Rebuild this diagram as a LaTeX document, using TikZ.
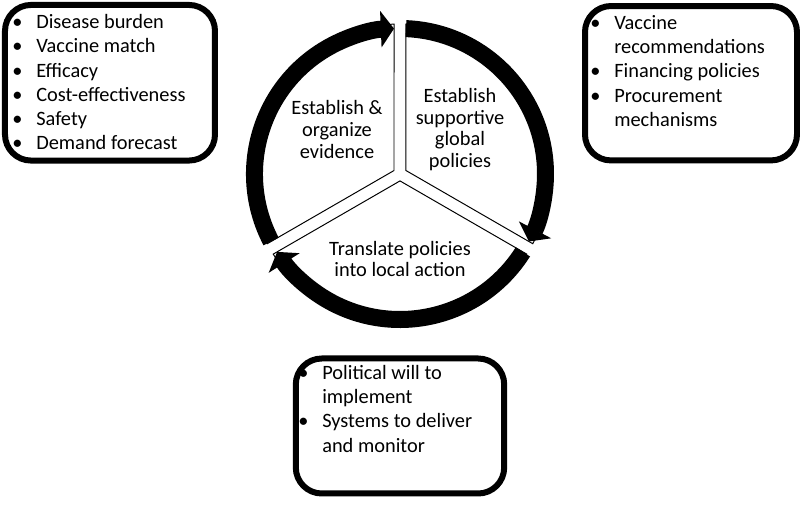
\documentclass[tikz,border=0pt]{standalone}
\usepackage{fontspec}
\setmainfont{Carlito}
\usetikzlibrary{arrows.meta}

\begin{document}
\begin{tikzpicture}[
    slice/.style={fill=white,draw=black,line width=0.7pt},
    ring/.style={line width=4.25mm,-{Triangle[length=3.3mm,width=9mm]}},
    listbox/.style={draw,line width=1.5mm,rounded corners=6.5mm},
    cycletext/.style={align=center,font=\fontsize{14.5}{15.5}\selectfont},
    list/.style={anchor=base west,inner sep=0pt,font=\fontsize{14.5}{17.3}\selectfont}
    ]

    \useasboundingbox (-10,-8.275) rectangle (10,4.35);

    % slices of the cycle:
    \draw [slice] (150:0.173) -- (207.71:3.75) arc[start angle=207.71, end angle=92.29, radius=3.75] -- cycle;
    \draw [slice] (30:0.173) -- (87.71:3.75) arc[start angle=87.71, end angle=-27.71, radius=3.75] -- cycle;
    \draw [slice] (270:0.173) -- (-32.29:3.75) arc[start angle=-32.29, end angle=-147.71, radius=3.75] -- cycle;

    % arrows round the cycle:
    \draw [ring] (207.64:3.6375) arc[start angle=207.64, end angle=92.36, radius=3.6375];
    \draw [ring] (87.64:3.6375) arc[start angle=87.64, end angle=-27.64, radius=3.6375];
    \draw [ring] (-32.36:3.6375) arc[start angle=-32.36, end angle=-147.64, radius=3.6375];

    % steps:
    \node (evidence) at (-1.575, 1.11) [cycletext] {Establish \&\\organize\\evidence};
    \node (policies) at (1.5, 1.11) [cycletext] {Establish\\supportive\\global\\policies};
    \node (action) at (0, -2.125) [cycletext] {Translate policies\\into local action};

    % boxes:
    \node (evidencebox) at (-7.25, 2.281) [listbox, minimum width=5.25cm, minimum height=3.89cm] {};
    \node (policybox) at (7.275, 2.269) [listbox, minimum width=5.3cm, minimum height=3.86cm] {};
    \node (actionbox) at (0, -6.3) [listbox, minimum width=5.21cm, minimum height=3.375cm] {};

    % lists:
    \node (evidencelist) at (-9.7, 3.64) [list] {\begin{tabular}[t]{@{}p{6mm}@{}l@{}}
        \textbullet & Disease burden\\
        \textbullet & Vaccine match\\
        \textbullet & Efficacy\\
        \textbullet & Cost-effectiveness\\
        \textbullet & Safety\\
        \textbullet & Demand forecast
      \end{tabular}};
    \node (policylist) at (4.75, 3.617) [list] {\begin{tabular}[t]{@{}p{6mm}@{}l@{}}
        \textbullet & Vaccine\\
        & recommendations\\
        \textbullet & Financing policies\\
        \textbullet & Procurement\\
        & mechanisms
      \end{tabular}};
    \node (actionlist) at (-2.55, -5.13) [list] {\begin{tabular}[t]{@{}p{6mm}@{}l@{}}
        \textbullet & Political will to\\
        & implement\\
        \textbullet & Systems to deliver\\
        & and monitor
      \end{tabular}};

  \end{tikzpicture}
\end{document}
